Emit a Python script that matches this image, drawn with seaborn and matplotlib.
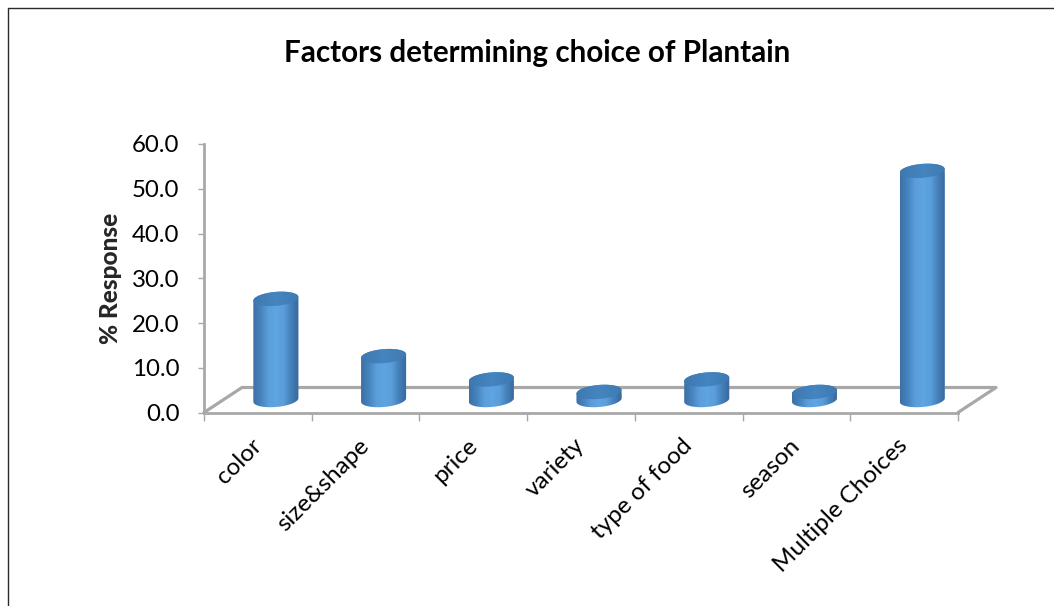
import numpy as np
import pandas as pd
import matplotlib
matplotlib.use("Agg")
import matplotlib.pyplot as plt
from matplotlib.colors import LinearSegmentedColormap
from matplotlib.lines import Line2D
from matplotlib.path import Path
from matplotlib.transforms import Affine2D, IdentityTransform
import seaborn as sns

# Survey responses
factors = ["color", "size&shape", "price", "variety", "type of food", "season", "Multiple Choices"]
responses = [22.6, 9.8, 4.6, 1.8, 4.6, 1.8, 51.2]
y_ticks = [0, 10, 20, 30, 40, 50, 60]

sns.set_style("white")
plt.rcParams["font.family"] = ["Lato", "DejaVu Sans"]

W, H = 1054, 606
GREY = "#a8a8a8"
DEPTH_X, DEPTH_Y = 38, 25      # floor depth, pixels
RADIUS_Y, SHEAR = 7, 0.08      # cylinder cap shape

fig = plt.figure(figsize=(W / 100, H / 100), dpi=100, facecolor="white")
ax = fig.add_axes([204 / W, 1 - 412.5 / H, (958 - 204) / W, (412.5 - 144) / H])

frame = pd.DataFrame({"factor": factors, "response": responses})
sns.barplot(data=frame, x="factor", y="response", ax=ax, color="#4f90cf",
            width=0.418, saturation=1, errorbar=None)

ax.set_xlim(-0.5, len(factors) - 0.5)
ax.set_ylim(0, 60)
ax.patch.set_alpha(0)

# Axes, ticks and labels
for side in ("top", "right"):
    ax.spines[side].set_visible(False)
for side in ("left", "bottom"):
    ax.spines[side].set_color(GREY)
    ax.spines[side].set_linewidth(2.0)

ax.set_yticks(y_ticks, [f"{v:.1f}" for v in y_ticks], fontsize=17.3, color="black")
ax.set_xticks(range(len(factors)), factors, rotation=45, ha="right",
              rotation_mode="anchor", fontsize=17.5, color="black")
ax.set_xticks(np.arange(-0.5, len(factors)), minor=True)
ax.tick_params(axis="y", length=4.3, width=1, color=GREY, left=True, pad=13.5)
ax.tick_params(axis="x", which="major", length=0, bottom=False, pad=16)
ax.tick_params(axis="x", which="minor", length=6, width=1, color=GREY, bottom=True)
for label in ax.get_xticklabels():
    label.set_transform(label.get_transform() + Affine2D().translate(-7, 0))
ax.set_xlabel("")
ax.set_ylabel("% Response", fontsize=17.6, fontweight="black", labelpad=7)

# Floor of the box, running back from the baseline
to_px = ax.transData
(x_l, y_b), (x_r, _) = to_px.transform([(-0.5, 0), (len(factors) - 0.5, 0)])
floor_x = [x_l, x_l + DEPTH_X, x_r + DEPTH_X, x_r]
floor_y = [y_b, y_b + DEPTH_Y, y_b + DEPTH_Y, y_b]
ax.add_line(Line2D(floor_x, floor_y, transform=IdentityTransform(), color=GREY,
                   lw=2.3, clip_on=False, zorder=1.5, solid_capstyle="round"))

# Turn each bar into a shaded cylinder standing mid-way across the floor
side_cmap = LinearSegmentedColormap.from_list(
    "side", ["#3d70a6", "#4684bf", "#5a9eda", "#5fa5e2", "#5a9eda", "#4480ba", "#3a689b"])
cap_cmap = LinearSegmentedColormap.from_list("cap", ["#3f78b0", "#4585c0", "#3f7ab2"])
shift = Affine2D().translate(DEPTH_X / 2 - 1, DEPTH_Y / 2)
t_low = np.linspace(np.pi, 2 * np.pi, 50)
t_up = np.linspace(0, np.pi, 50)


def rim(cx, cy, a, t):
    return np.column_stack([cx + a * np.cos(t), cy + RADIUS_Y * np.sin(t) + a * SHEAR * np.cos(t)])


for bar in ax.patches:
    (x0, y0), (x1, y1) = (to_px + shift).transform(
        [(bar.get_x(), 0), (bar.get_x() + bar.get_width(), bar.get_height())])
    cx, a = (x0 + x1) / 2, (x1 - x0) / 2

    outline = Path(np.vstack([rim(cx, y0, a, t_low), rim(cx, y1, a, t_up)]), closed=True)
    cap = Path(np.vstack([rim(cx, y1, a, t_low), rim(cx, y1, a, t_up)]), closed=True)
    bar.set_transform(to_px + shift)
    bar.set_clip_path(outline, IdentityTransform())

    extent = (x0, x1, y0 - 2 * RADIUS_Y, y1 + 2 * RADIUS_Y)
    body = ax.imshow(np.linspace(0, 1, 64)[None, :], cmap=side_cmap, extent=extent, aspect="auto",
                     transform=IdentityTransform(), interpolation="bilinear", zorder=3)
    body.set_clip_path(outline, IdentityTransform())
    top = ax.imshow(np.linspace(0, 1, 64)[None, :], cmap=cap_cmap, extent=extent, aspect="auto",
                    transform=IdentityTransform(), interpolation="bilinear", zorder=3.1)
    top.set_clip_path(cap, IdentityTransform())

ax.set_xlim(-0.5, len(factors) - 0.5)
ax.set_ylim(0, 60)

# Title and chart border
fig.text(537 / W, 1 - 53 / H, "Factors determining choice of Plantain", ha="center", va="center",
         fontsize=21.3, fontweight="bold", color="black")
fig.add_artist(Line2D([8 / W, 8 / W, 1], [0, 1 - 8 / H, 1 - 8 / H], color="#2b2b2b", lw=1.0,
                      transform=fig.transFigure))

fig.savefig("out.png", dpi=100, facecolor="white")
